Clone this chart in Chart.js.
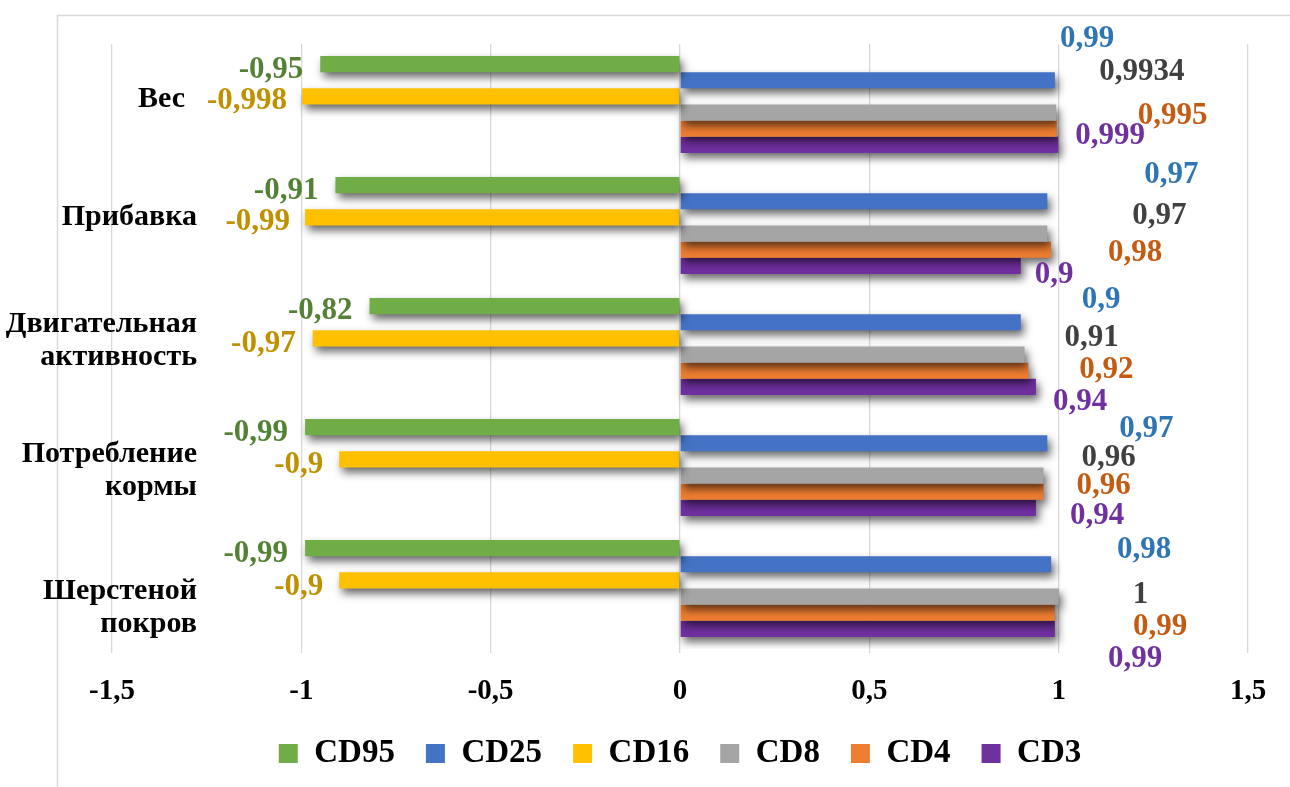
<!DOCTYPE html>
<html>
<head>
<meta charset="utf-8">
<script src="https://cdn.jsdelivr.net/npm/chart.js@4.4.1/dist/chart.umd.min.js"></script>
<style>
  html, body { margin: 0; padding: 0; background: #ffffff; }
  #wrap { width: 1290px; height: 787px; position: relative; }
</style>
</head>
<body>
<div id="wrap"><canvas id="c" width="1290" height="787"></canvas></div>
<script>
// Categories (multi-line labels) and correlation values per marker
const categories = [['Вес'], ['Прибавка'], ['Двигательная', 'активность'], ['Потребление', 'кормы'], ['Шерстеной', 'покров']];
const seriesNames = ['CD95', 'CD25', 'CD16', 'CD8', 'CD4', 'CD3'];
const cd95 = [-0.95, -0.91, -0.82, -0.99, -0.99];
const cd25 = [0.99, 0.97, 0.9, 0.97, 0.98];
const cd16 = [-0.998, -0.99, -0.97, -0.9, -0.9];
const cd8  = [0.9934, 0.97, 0.91, 0.96, 1];
const cd4  = [0.995, 0.98, 0.92, 0.96, 0.99];
const cd3  = [0.999, 0.9, 0.94, 0.94, 0.99];
const xTicks = [-1.5, -1, -0.5, 0, 0.5, 1, 1.5];

// Styling
const barColors   = ['#70AD47', '#4472C4', '#FFC000', '#A5A5A5', '#ED7D31', '#7030A0'];
const labelColors = ['#548235', '#2E75B6', '#BF9000', '#404040', '#C55A11', '#7030A0'];
// value label placement: [gap from bar end in px, vertical shift in px]
const labelNudge = [
  [[17, 3], [17, 3], [17, 2], [17, 3], [17, 3]],
  [[5, -44], [97, -29], [61, -25], [72, -17], [66, -17]],
  [[15, 2], [15, 2], [17, 3], [16, 3], [16, 4]],
  [[43, -43], [85, -20], [40, -19], [38, -20], [74, -4]],
  [[81, -15], [57, 1], [51, -3], [33, -8], [78, 12]],
  [[17, -11], [14, 7], [17, 13], [34, 6], [53, 28]]
];
// category label placement: [horizontal shift, vertical shift]
const categoryNudge = [[-12, -8], [0, -11], [0, -8], [0, 1], [0, 17]];
const FONT = 'Liberation Serif, "Times New Roman", serif';

const seriesValues = [cd95, cd25, cd16, cd8, cd4, cd3];
const fmt = v => String(v).replace('.', ',');

const decorations = {
  id: 'decorations',
  beforeDraw(chart) {
    const ctx = chart.ctx;
    ctx.save();
    ctx.fillStyle = '#ffffff';
    ctx.fillRect(0, 0, chart.width, chart.height);
    ctx.strokeStyle = '#d9d9d9';
    ctx.lineWidth = 1.5;
    ctx.strokeRect(57.5, 15.5, 1400, 900);
    ctx.restore();
  },
  beforeDatasetsDraw(chart) {
    const ctx = chart.ctx;
    ctx.save();
    ctx.shadowColor = 'rgba(0,0,0,0.6)';
    ctx.shadowBlur = 8;
    ctx.shadowOffsetX = 3;
    ctx.shadowOffsetY = 5;
  },
  afterDatasetsDraw(chart) {
    const ctx = chart.ctx;
    ctx.restore();
    ctx.save();
    // value labels
    ctx.font = 'bold 31px ' + FONT;
    ctx.textBaseline = 'alphabetic';
    chart.data.datasets.forEach((ds, i) => {
      const meta = chart.getDatasetMeta(i);
      ctx.fillStyle = labelColors[i];
      meta.data.forEach((bar, j) => {
        const v = ds.data[j];
        const [gap, dy] = labelNudge[i][j];
        const y = bar.y + dy + 10.5;
        if (v < 0) {
          ctx.textAlign = 'right';
          ctx.fillText(fmt(v), bar.x - gap, y);
        } else {
          ctx.textAlign = 'left';
          ctx.fillText(fmt(v), bar.x + gap, y);
        }
      });
    });
    // category labels
    const ys = chart.scales.y;
    ctx.font = 'bold 30px ' + FONT;
    ctx.fillStyle = '#000000';
    ctx.textAlign = 'right';
    categories.forEach((lines, k) => {
      const [dx, dy] = categoryNudge[k];
      const c = ys.getPixelForValue(k) + dy;
      const lh = 33;
      lines.forEach((line, n) => {
        const yy = c + (n - (lines.length - 1) / 2) * lh + 10;
        ctx.fillText(line, 197 + dx, yy);
      });
    });
    ctx.restore();
  }
};

new Chart(document.getElementById('c'), {
  type: 'bar',
  data: {
    labels: categories.map(l => l.join(' ')),
    datasets: seriesNames.map((name, i) => ({
      label: name,
      data: seriesValues[i],
      backgroundColor: barColors[i],
      borderWidth: 0,
      categoryPercentage: 0.8,
      barPercentage: 1.0
    }))
  },
  options: {
    responsive: false,
    animation: false,
    indexAxis: 'y',
    layout: { padding: { left: 112, right: 42, top: 44, bottom: 7 } },
    scales: {
      x: {
        min: -1.5,
        max: 1.5,
        afterBuildTicks: s => { s.ticks = xTicks.map(v => ({ value: v })); },
        afterFit: s => { s.height = 57; },
        grid: { color: '#d9d9d9', lineWidth: 1.3, tickLength: 4 },
        border: { display: false },
        ticks: {
          padding: 21,
          color: '#000000',
          font: { family: FONT, weight: 'bold', size: 29 },
          callback: v => fmt(v)
        }
      },
      y: { display: false }
    },
    plugins: {
      legend: {
        position: 'bottom',
        labels: {
          boxWidth: 19,
          boxHeight: 19,
          padding: 31,
          color: '#000000',
          font: { family: FONT, weight: 'bold', size: 33 }
        }
      },
      tooltip: { enabled: false }
    }
  },
  plugins: [decorations]
});
</script>
</body>
</html>
